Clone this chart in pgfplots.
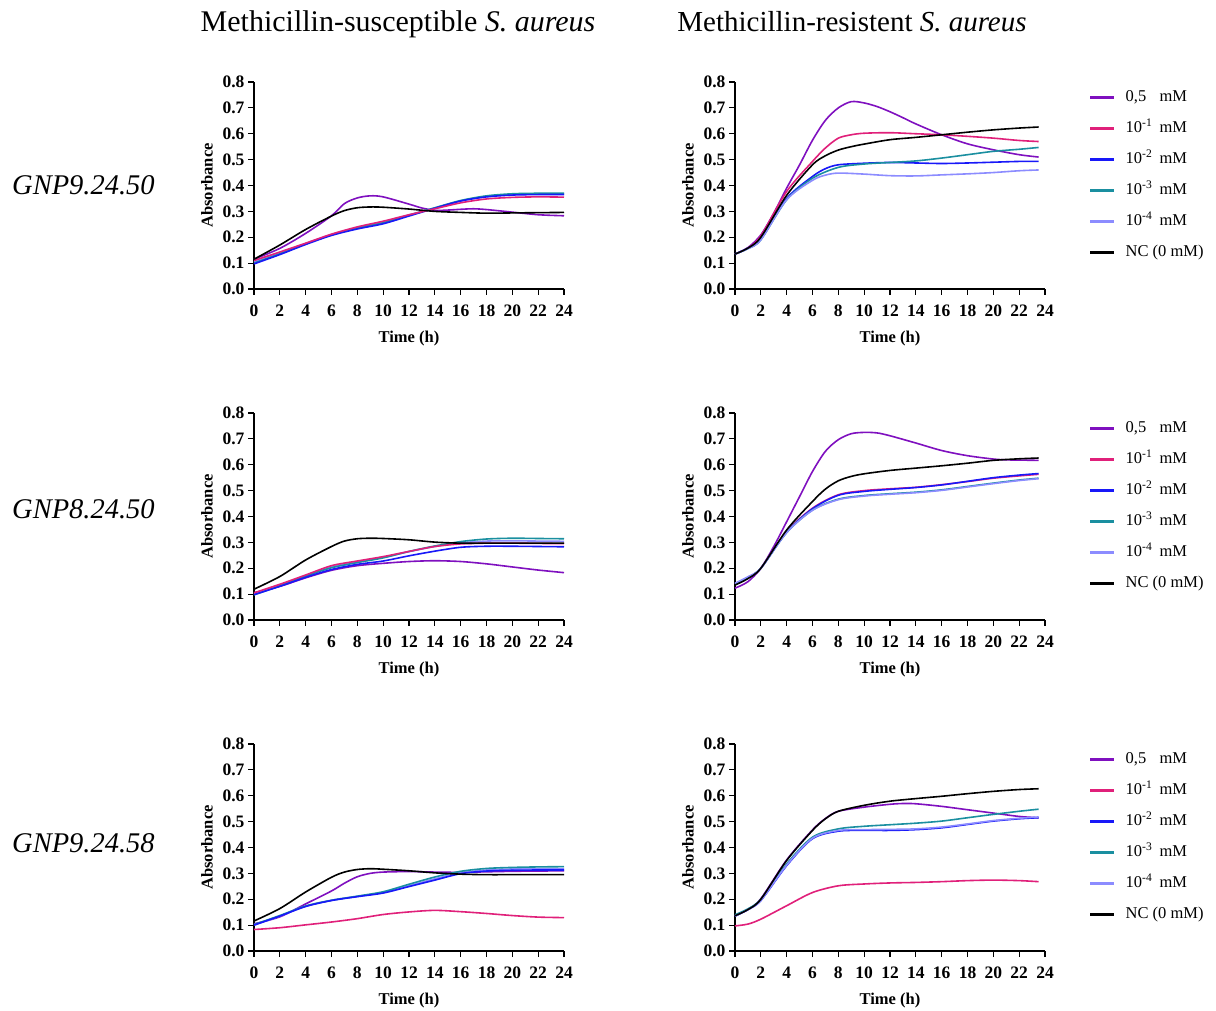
\documentclass[border=0pt]{standalone}
\usepackage{fontspec}
\setmainfont{Liberation Serif}
\usepackage{pgfplots}
\pgfplotsset{compat=1.18}

\definecolor{cPurple}{HTML}{7F10BF}
\definecolor{cPink}{HTML}{E0207A}
\definecolor{cBlue}{HTML}{1818F8}
\definecolor{cTeal}{HTML}{1A8FA0}
\definecolor{cLight}{HTML}{8C8CFF}

% short, thick legend samples
\pgfplotsset{legend image code/.code={\fill[#1] (0pt,-0.9pt) rectangle (22pt,0.9pt);}}

\pgfplotsset{
  panel/.style={
    scale only axis, width=310pt, height=207pt,
    anchor=south west,
    xmin=0, xmax=24, ymin=0, ymax=0.8,
    axis lines=left,
    axis line style={-, line width=1.3pt},
    xtick={0,2,4,6,8,10,12,14,16,18,20,22,24},
    ytick={0,0.1,0.2,0.3,0.4,0.5,0.6,0.7,0.8},
    tick align=outside, major tick length=6pt,
    tick style={line width=1.2pt, black},
    /pgf/number format/assume math mode=true,
    yticklabel style={/pgf/number format/.cd, fixed, fixed zerofill, precision=1},
    xticklabel style={yshift=-6pt},
    ticklabel style={font=\fontsize{17.5}{17.5}\selectfont\bfseries},
    xlabel={Time (h)}, ylabel={Absorbance},
    every axis x label/.style={at={(axis description cs:0.5,0)}, yshift=-50pt, anchor=center,
      font=\fontsize{16.5}{16.5}\selectfont\bfseries},
    every axis y label/.style={at={(axis description cs:0,0.5)}, xshift=-47pt, rotate=90, anchor=center,
      font=\fontsize{16.5}{16.5}\selectfont\bfseries},
    clip=false,
    every axis plot/.append style={line width=1.6pt, smooth, no markers},
  },
  withlegend/.style={
    legend style={draw=none, at={(rel axis cs:1.135,0.975)}, anchor=north west,
      font=\fontsize{16.5}{16.5}\selectfont,
      nodes={inner sep=0pt, text height=12pt, text depth=4pt},
      row sep=15pt, column sep=12pt},
    legend cell align=left,
  },
}

\newcommand{\conc}[1]{\makebox[34pt][l]{#1}mM}

\begin{document}
\begin{tikzpicture}
\path[use as bounding box] (0pt,0pt) rectangle (1216pt,1010pt);

% column headings
\node[anchor=base, font=\fontsize{30}{30}\selectfont] at (398pt,978pt) {Methicillin-susceptible \textit{S. aureus}};
\node[anchor=base, font=\fontsize{29}{29}\selectfont] at (852pt,978pt) {Methicillin-resistent \textit{S. aureus}};

% row headings
\node[anchor=base west, font=\fontsize{28.5}{28.5}\selectfont\itshape, inner sep=0pt] at (12pt,815pt) {GNP9.24.50};
\node[anchor=base west, font=\fontsize{28.5}{28.5}\selectfont\itshape, inner sep=0pt] at (12pt,491pt) {GNP8.24.50};
\node[anchor=base west, font=\fontsize{28.5}{28.5}\selectfont\itshape, inner sep=0pt] at (12pt,157pt) {GNP9.24.58};

% ---------- GNP9.24.50, MSSA ----------
\begin{axis}[panel, at={(254pt,721pt)}]
\addplot[cPurple] coordinates {(0,0.115)(2,0.157)(4,0.215)(6,0.283)(7,0.33)(8,0.352)(9,0.36)(10,0.356)(12,0.328)(13,0.313)(14,0.304)(15,0.305)(16,0.308)(17,0.31)(18,0.307)(20,0.297)(22,0.287)(24,0.283)};
\addplot[cLight] coordinates {(0,0.105)(2,0.14)(4,0.176)(6,0.21)(8,0.236)(10,0.258)(12,0.286)(14,0.313)(16,0.34)(18,0.357)(20,0.365)(22,0.367)(24,0.367)};
\addplot[cTeal] coordinates {(0,0.1)(2,0.136)(4,0.174)(6,0.209)(8,0.235)(10,0.256)(12,0.285)(14,0.314)(16,0.342)(18,0.36)(20,0.368)(22,0.37)(24,0.37)};
\addplot[cBlue] coordinates {(0,0.097)(2,0.133)(4,0.172)(6,0.207)(8,0.232)(10,0.252)(12,0.282)(14,0.312)(16,0.34)(18,0.356)(20,0.363)(22,0.365)(24,0.365)};
\addplot[cPink] coordinates {(0,0.11)(2,0.143)(4,0.177)(6,0.212)(8,0.24)(10,0.262)(12,0.287)(14,0.31)(16,0.333)(18,0.348)(20,0.354)(22,0.356)(24,0.355)};
\addplot[black] coordinates {(0,0.115)(2,0.17)(4,0.23)(6,0.282)(7,0.303)(8,0.314)(9,0.317)(10,0.316)(12,0.309)(14,0.3)(16,0.296)(18,0.293)(20,0.294)(22,0.295)(24,0.296)};
\end{axis}

% ---------- GNP9.24.50, MRSA ----------
\begin{axis}[panel, withlegend, at={(735pt,721pt)}]
\addplot[cPurple] coordinates {(0,0.135)(1,0.16)(2,0.209)(3,0.293)(4,0.39)(5,0.48)(6,0.575)(7,0.652)(8,0.7)(9,0.724)(10,0.719)(11,0.705)(12,0.685)(13,0.662)(14,0.638)(16,0.596)(18,0.561)(20,0.538)(22,0.519)(23.5,0.51)};
\addlegendentry{\conc{0,5}}
\addplot[cPink] coordinates {(0,0.135)(1,0.158)(2,0.205)(4,0.377)(6,0.493)(7,0.545)(8,0.583)(9,0.596)(10,0.602)(12,0.604)(14,0.6)(16,0.596)(18,0.59)(20,0.583)(22,0.574)(23.5,0.57)};
\addlegendentry{\conc{10\textsuperscript{-1}}}
\addplot[cBlue] coordinates {(0,0.135)(1,0.158)(2,0.195)(4,0.35)(6,0.435)(7,0.465)(8,0.48)(10,0.486)(12,0.489)(14,0.487)(16,0.485)(18,0.487)(20,0.49)(22,0.493)(23.5,0.493)};
\addlegendentry{\conc{10\textsuperscript{-2}}}
\addplot[cTeal] coordinates {(0,0.135)(1,0.156)(2,0.19)(4,0.345)(6,0.428)(8,0.47)(10,0.483)(12,0.489)(14,0.495)(16,0.506)(18,0.519)(20,0.532)(22,0.54)(23.5,0.547)};
\addlegendentry{\conc{10\textsuperscript{-3}}}
\addplot[cLight] coordinates {(0,0.135)(1,0.156)(2,0.19)(4,0.345)(6,0.42)(7,0.44)(8,0.448)(10,0.444)(12,0.438)(14,0.437)(16,0.441)(18,0.445)(20,0.45)(22,0.457)(23.5,0.46)};
\addlegendentry{\conc{10\textsuperscript{-4}}}
\addplot[black] coordinates {(0,0.135)(1,0.158)(2,0.2)(4,0.362)(6,0.48)(7,0.515)(8,0.537)(9,0.55)(10,0.56)(12,0.577)(14,0.586)(16,0.596)(18,0.606)(20,0.615)(22,0.622)(23.5,0.626)};
\addlegendentry{NC (0 mM)}
\end{axis}

% ---------- GNP8.24.50, MSSA ----------
\begin{axis}[panel, at={(254pt,390pt)}]
\addplot[cPurple] coordinates {(0,0.105)(2,0.13)(4,0.163)(6,0.192)(8,0.21)(10,0.219)(12,0.226)(14,0.229)(16,0.226)(18,0.217)(20,0.205)(22,0.193)(24,0.183)};
\addplot[cLight] coordinates {(0,0.1)(2,0.134)(4,0.171)(6,0.205)(8,0.224)(10,0.242)(12,0.264)(14,0.284)(16,0.298)(18,0.305)(20,0.306)(22,0.305)(24,0.304)};
\addplot[cTeal] coordinates {(0,0.097)(2,0.132)(4,0.17)(6,0.202)(8,0.222)(10,0.24)(12,0.265)(14,0.286)(16,0.303)(18,0.313)(20,0.316)(22,0.315)(24,0.314)};
\addplot[cBlue] coordinates {(0,0.098)(2,0.13)(4,0.165)(6,0.195)(8,0.215)(10,0.228)(12,0.248)(14,0.266)(16,0.281)(18,0.285)(20,0.285)(22,0.284)(24,0.283)};
\addplot[cPink] coordinates {(0,0.105)(2,0.138)(4,0.174)(6,0.21)(8,0.228)(10,0.245)(12,0.265)(14,0.284)(16,0.294)(18,0.297)(20,0.297)(22,0.296)(24,0.295)};
\addplot[black] coordinates {(0,0.119)(2,0.168)(4,0.232)(6,0.284)(7,0.305)(8,0.314)(9,0.316)(10,0.315)(12,0.31)(14,0.301)(16,0.297)(18,0.297)(20,0.297)(22,0.297)(24,0.297)};
\end{axis}

% ---------- GNP8.24.50, MRSA ----------
\begin{axis}[panel, withlegend, at={(735pt,390pt)}]
\addplot[cPurple] coordinates {(0,0.123)(1,0.148)(2,0.2)(3,0.284)(4,0.38)(5,0.477)(6,0.574)(7,0.652)(8,0.697)(9,0.72)(10,0.725)(11,0.723)(12,0.712)(14,0.684)(16,0.655)(18,0.635)(20,0.622)(21,0.619)(22,0.618)(23.5,0.617)};
\addlegendentry{\conc{0,5}}
\addplot[cPink] coordinates {(0,0.14)(1,0.165)(2,0.2)(4,0.342)(6,0.432)(8,0.484)(10,0.5)(12,0.507)(14,0.513)(16,0.523)(18,0.535)(20,0.548)(22,0.557)(23.5,0.563)};
\addlegendentry{\conc{10\textsuperscript{-1}}}
\addplot[cBlue] coordinates {(0,0.138)(1,0.163)(2,0.2)(4,0.34)(6,0.43)(8,0.482)(10,0.497)(12,0.505)(14,0.512)(16,0.522)(18,0.536)(20,0.55)(22,0.56)(23.5,0.566)};
\addlegendentry{\conc{10\textsuperscript{-2}}}
\addplot[cTeal] coordinates {(0,0.14)(1,0.165)(2,0.2)(4,0.338)(6,0.425)(8,0.467)(10,0.481)(12,0.488)(14,0.494)(16,0.503)(18,0.516)(20,0.529)(22,0.541)(23.5,0.548)};
\addlegendentry{\conc{10\textsuperscript{-3}}}
\addplot[cLight] coordinates {(0,0.142)(1,0.167)(2,0.2)(4,0.338)(6,0.424)(8,0.465)(10,0.479)(12,0.486)(14,0.492)(16,0.501)(18,0.514)(20,0.527)(22,0.539)(23.5,0.546)};
\addlegendentry{\conc{10\textsuperscript{-4}}}
\addplot[black] coordinates {(0,0.135)(1,0.16)(2,0.2)(4,0.348)(6,0.458)(7,0.506)(8,0.538)(9,0.555)(10,0.565)(12,0.578)(14,0.587)(16,0.596)(18,0.606)(20,0.617)(22,0.623)(23.5,0.626)};
\addlegendentry{NC (0 mM)}
\end{axis}

% ---------- GNP9.24.58, MSSA ----------
\begin{axis}[panel, at={(254pt,59pt)}]
\addplot[cPurple] coordinates {(0,0.105)(2,0.132)(4,0.182)(6,0.232)(7,0.262)(8,0.287)(9,0.3)(10,0.305)(12,0.307)(14,0.305)(16,0.304)(18,0.306)(20,0.308)(22,0.309)(24,0.31)};
\addplot[cPink] coordinates {(0,0.083)(2,0.09)(4,0.101)(6,0.112)(8,0.125)(10,0.141)(12,0.151)(14,0.157)(16,0.152)(18,0.145)(20,0.137)(22,0.131)(24,0.129)};
\addplot[cLight] coordinates {(0,0.1)(2,0.135)(4,0.173)(6,0.196)(8,0.211)(10,0.226)(12,0.252)(14,0.279)(16,0.302)(18,0.313)(20,0.317)(22,0.318)(24,0.318)};
\addplot[cTeal] coordinates {(0,0.102)(2,0.137)(4,0.174)(6,0.196)(8,0.212)(10,0.229)(12,0.258)(14,0.286)(16,0.308)(18,0.319)(20,0.323)(22,0.325)(24,0.326)};
\addplot[cBlue] coordinates {(0,0.1)(2,0.135)(4,0.172)(6,0.195)(8,0.21)(10,0.224)(12,0.249)(14,0.274)(16,0.299)(18,0.309)(20,0.312)(22,0.313)(24,0.313)};
\addplot[black] coordinates {(0,0.116)(2,0.164)(4,0.228)(6,0.285)(7,0.305)(8,0.315)(9,0.318)(10,0.316)(12,0.31)(14,0.302)(16,0.297)(18,0.295)(20,0.295)(22,0.295)(24,0.295)};
\end{axis}

% ---------- GNP9.24.58, MRSA ----------
\begin{axis}[panel, withlegend, at={(735pt,59pt)}]
\addplot[cPurple] coordinates {(0,0.136)(1,0.16)(2,0.202)(4,0.352)(6,0.468)(7,0.512)(8,0.54)(10,0.556)(12,0.567)(13,0.57)(14,0.569)(16,0.559)(18,0.546)(20,0.533)(22,0.52)(23.5,0.515)};
\addlegendentry{\conc{0,5}}
\addplot[cPink] coordinates {(0,0.097)(1,0.104)(2,0.123)(4,0.175)(6,0.226)(8,0.252)(10,0.259)(12,0.263)(14,0.265)(16,0.268)(18,0.272)(20,0.274)(22,0.272)(23.5,0.268)};
\addlegendentry{\conc{10\textsuperscript{-1}}}
\addplot[cBlue] coordinates {(0,0.135)(1,0.16)(2,0.195)(4,0.33)(6,0.434)(8,0.463)(10,0.466)(12,0.466)(14,0.469)(16,0.476)(18,0.489)(20,0.502)(22,0.511)(23.5,0.515)};
\addlegendentry{\conc{10\textsuperscript{-2}}}
\addplot[cTeal] coordinates {(0,0.14)(1,0.163)(2,0.2)(4,0.337)(6,0.44)(8,0.472)(10,0.482)(12,0.488)(14,0.494)(16,0.502)(18,0.515)(20,0.528)(22,0.54)(23.5,0.548)};
\addlegendentry{\conc{10\textsuperscript{-3}}}
\addplot[cLight] coordinates {(0,0.135)(1,0.16)(2,0.196)(4,0.332)(6,0.436)(8,0.466)(10,0.469)(12,0.47)(14,0.472)(16,0.479)(18,0.491)(20,0.504)(22,0.513)(23.5,0.518)};
\addlegendentry{\conc{10\textsuperscript{-4}}}
\addplot[black] coordinates {(0,0.136)(1,0.16)(2,0.2)(4,0.35)(6,0.466)(7,0.511)(8,0.54)(10,0.563)(12,0.579)(14,0.589)(16,0.598)(18,0.608)(20,0.617)(22,0.624)(23.5,0.627)};
\addlegendentry{NC (0 mM)}
\end{axis}
\end{tikzpicture}
\end{document}
